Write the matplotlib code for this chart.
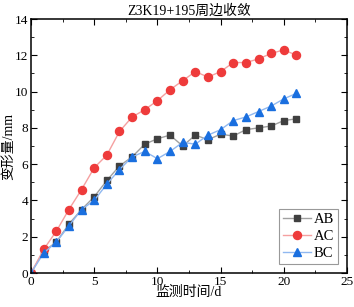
import matplotlib.pyplot as plt
from matplotlib.ticker import MultipleLocator

days = list(range(22))
ab = [0, 1.2, 1.7, 2.7, 3.5, 4.2, 5.1, 5.9, 6.4, 7.1, 7.4, 7.6, 7.0, 7.6, 7.35,
      7.65, 7.55, 7.9, 8.0, 8.1, 8.4, 8.5]
ac = [0, 1.3, 2.3, 3.5, 4.6, 5.8, 6.5, 7.8, 8.6, 9.0, 9.5, 10.1, 10.6, 11.1, 10.8,
      11.1, 11.6, 11.6, 11.8, 12.1, 12.3, 12.0]
bc = [0, 1.1, 1.7, 2.6, 3.5, 4.0, 4.9, 5.7, 6.4, 6.7, 6.3, 6.7, 7.2, 7.1, 7.6,
      7.9, 8.4, 8.6, 8.9, 9.2, 9.6, 9.9]

plt.rcParams['font.family'] = ['Liberation Serif', 'Noto Sans CJK SC']
plt.rcParams['font.size'] = 10

fig = plt.figure(figsize=(3.54, 3.07), dpi=100)
ax = fig.add_axes([31 / 354, 1 - 273 / 307, 316 / 354, 254 / 307])

styles = {
    'AB': dict(color='#a0a0a0', mfc='#404040', mec='#404040', marker='s', ms=5),
    'AC': dict(color='#f5a0a0', mfc='#ee3b3b', mec='#ee3b3b', marker='o', ms=5.8),
    'BC': dict(color='#90b8f0', mfc='#1a6fdf', mec='#1a6fdf', marker='^', ms=6),
}
for name, vals in [('AB', ab), ('AC', ac), ('BC', bc)]:
    ax.plot(days, vals, lw=1, label=name, **styles[name])

ax.set_xlim(0, 25)
ax.set_ylim(0, 14)
ax.xaxis.set_major_locator(MultipleLocator(5))
ax.xaxis.set_minor_locator(MultipleLocator(2.5))
ax.yaxis.set_major_locator(MultipleLocator(2))
ax.yaxis.set_minor_locator(MultipleLocator(1))
for sp in ax.spines.values():
    sp.set_linewidth(1.1)
ax.tick_params(which='both', direction='in', top=True, right=True, labelsize=9.5, pad=2)
ax.tick_params(which='major', length=4)
ax.tick_params(which='minor', length=2)

ax.set_title('Z3K19+195周边收敛', fontsize=10, pad=3)
ax.set_xlabel('监测时间/d', fontsize=10, labelpad=-1)
ax.set_ylabel('变形量/mm', fontsize=10, labelpad=0)

leg = ax.legend(loc='lower right', fontsize=10.5, fancybox=False, edgecolor='#808080',
                handlelength=1.9, handletextpad=0.2, borderpad=0.3,
                borderaxespad=0.6, labelspacing=0.25)
leg.get_frame().set_linewidth(0.8)

fig.savefig('out.png', dpi=100)
